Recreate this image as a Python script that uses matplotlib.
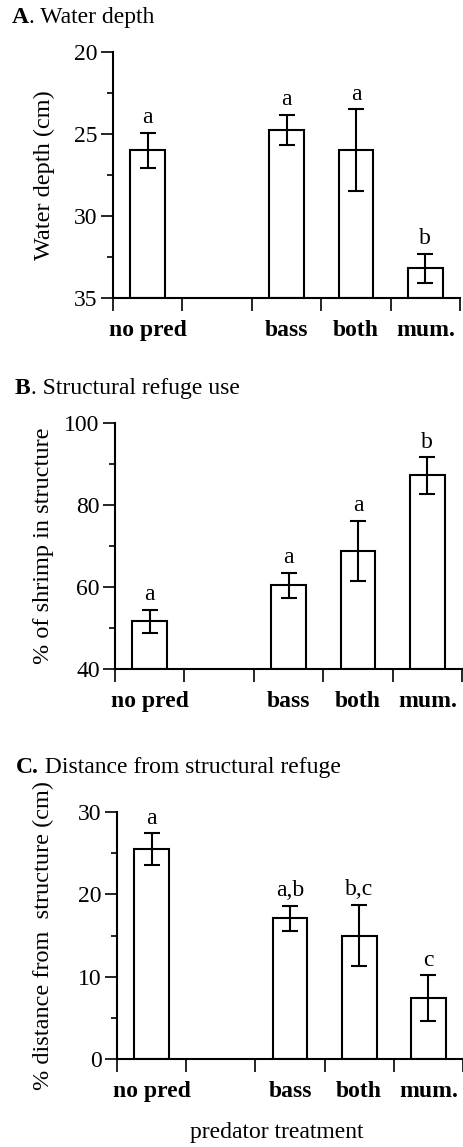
import numpy as np
import matplotlib
matplotlib.use("Agg")
import matplotlib.pyplot as plt

plt.rcParams['font.family'] = ['Liberation Serif', 'DejaVu Serif']

# treatments, the second slot on the x axis stays empty
treatments = ['no pred', 'bass', 'both', 'mum.']
slots = [0, 2, 3, 4]

depth = [26.0, 24.75, 26.0, 33.2]
depth_err = [1.05, 0.9, 2.5, 0.9]
depth_sig = ['a', 'a', 'a', 'b']

refuge = [51.6, 60.4, 68.8, 87.2]
refuge_err = [2.8, 3.0, 7.4, 4.4]
refuge_sig = ['a', 'a', 'a', 'b']

dist = [25.5, 17.1, 15.0, 7.4]
dist_err = [1.9, 1.5, 3.7, 2.75]
dist_sig = ['a', 'a,b', 'b,c', 'c']

W, H = 463, 1147
fig = plt.figure(figsize=(W / 100, H / 100), dpi=100)


def px_axes(left, top, right, bottom):
    return fig.add_axes([left / W, 1 - bottom / H, (right - left) / W, (bottom - top) / H])


def panel(ax, vals, errs, sig, base, lim, major, minor, ylabel, left_px):
    heights = [v - base for v in vals]
    ax.bar(slots, heights, bottom=base, width=0.5, color='white',
           edgecolor='black', linewidth=1.5, zorder=2)
    ax.errorbar(slots, vals, yerr=errs, fmt='none', ecolor='black',
                elinewidth=1.5, capsize=6, capthick=1.5, zorder=3)
    ax.set_ylim(*lim)
    ax.set_xlim(-0.5, 4.5)
    ax.spines[['top', 'right']].set_visible(False)
    for s in ('left', 'bottom'):
        ax.spines[s].set_linewidth(1.5)
    ax.set_yticks(major)
    ax.set_yticks(minor, minor=True)
    ax.tick_params(axis='y', which='major', length=9, width=1.2, labelsize=17, pad=2)
    ax.tick_params(axis='y', which='minor', length=4.5, width=1.2)
    ax.set_xticks(np.arange(-0.5, 5, 1))
    ax.set_xticklabels([])
    ax.set_xticks(slots, minor=True)
    ax.set_xticklabels(treatments, minor=True, fontweight='bold', fontsize=17)
    ax.tick_params(axis='x', which='major', length=9, width=1.2)
    ax.tick_params(axis='x', which='minor', length=0, pad=16)
    ax.set_ylabel(ylabel, fontsize=17.5)
    ax.yaxis.set_label_coords((54 - left_px) / (W - left_px), 0.5)
    inv = lim[0] > lim[1]
    for x, v, e, s in zip(slots, vals, errs, sig):
        top = v - e if inv else v + e
        ax.annotate(s, (x, top), xytext=(0, 7), textcoords='offset points',
                    ha='center', va='baseline', fontsize=17)


def title(x_px, y_px, bold, rest):
    t = fig.text(x_px / W, 1 - y_px / H, bold, fontweight='bold', fontsize=17,
                 ha='left', va='baseline')
    fig.canvas.draw()
    ext = t.get_window_extent()
    fig.text(ext.x1 / W, 1 - y_px / H, rest, fontsize=17, ha='left', va='baseline')


axA = px_axes(113, 52, 460, 298)
panel(axA, depth, depth_err, depth_sig, 35, (35, 20), [20, 25, 30, 35],
      [22.5, 27.5, 32.5], 'Water depth (cm)', 113)
title(12, 23, 'A', '. Water depth')

axB = px_axes(115, 423, 462, 669)
panel(axB, refuge, refuge_err, refuge_sig, 40, (40, 100), [40, 60, 80, 100],
      [50, 70, 90], '% of shrimp in structure', 115)
title(15, 394, 'B', '. Structural refuge use')

axC = px_axes(117, 812, 463, 1059)
panel(axC, dist, dist_err, dist_sig, 0, (0, 30), [0, 10, 20, 30],
      [5, 15, 25], '% distance from  structure (cm)', 117)
title(16, 773, 'C.', ' Distance from structural refuge')

fig.text(277 / W, 1 - 1138 / H, 'predator treatment', fontsize=17,
         ha='center', va='baseline')

fig.savefig('out.png', dpi=100)
